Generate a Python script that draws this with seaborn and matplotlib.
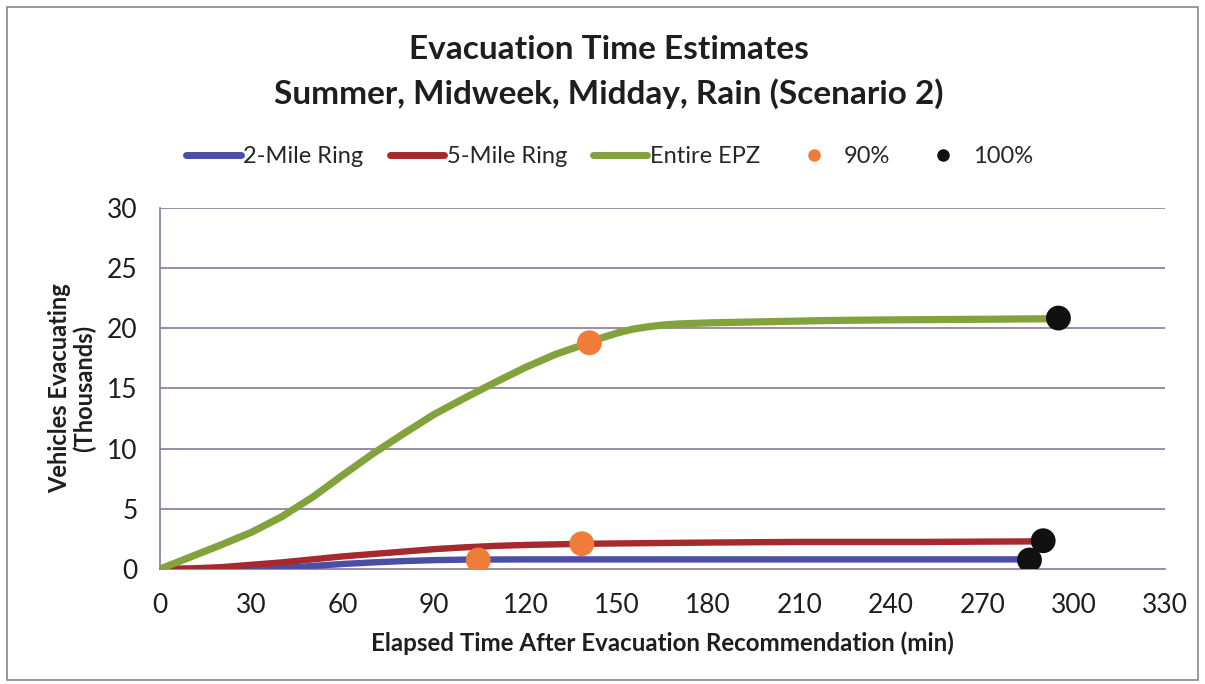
import matplotlib
matplotlib.use("Agg")
import matplotlib.pyplot as plt
import seaborn as sns
from matplotlib.lines import Line2D
from matplotlib.patches import Rectangle

# ---- data (minutes, thousands of vehicles) ----
t_green = [0, 10, 20, 30, 40, 50, 60, 70, 80, 90, 100, 110, 120, 130, 140, 145, 150, 155,
           160, 165, 170, 180, 200, 220, 240, 270, 295]
v_green = [0, 1.0, 2.0, 3.05, 4.35, 5.95, 7.8, 9.6, 11.25, 12.85, 14.2, 15.5, 16.75, 17.85,
           18.72, 19.2, 19.6, 19.92, 20.12, 20.27, 20.36, 20.45, 20.55, 20.65, 20.7, 20.75, 20.8]

t_red = [0, 10, 20, 30, 40, 50, 60, 70, 80, 90, 100, 110, 120, 130, 140, 160, 180, 210,
         250, 290]
v_red = [0, 0.05, 0.15, 0.35, 0.55, 0.8, 1.05, 1.25, 1.45, 1.65, 1.8, 1.92, 2.0, 2.05,
         2.1, 2.15, 2.2, 2.25, 2.25, 2.3]

t_blue = [0, 20, 30, 40, 50, 60, 70, 80, 90, 100, 120, 150, 200, 250, 285]
v_blue = [0, 0, 0.02, 0.08, 0.25, 0.42, 0.55, 0.66, 0.74, 0.78, 0.8, 0.8, 0.8, 0.8, 0.8]

t_90 = [104.5, 138.5, 141]
v_90 = [0.75, 2.1, 18.8]
t_100 = [285.5, 290, 295]
v_100 = [0.75, 2.35, 20.85]

x_ticks = list(range(0, 331, 30))
y_ticks = [0, 5, 10, 15, 20, 25, 30]

series_names = ["2-Mile Ring", "5-Mile Ring", "Entire EPZ", "90%", "100%"]
c_blue, c_red, c_green, c_orange, c_black = "#4B4EA6", "#A6292D", "#82A23C", "#F07C3A", "#111111"

sns.set_theme(style="white")
plt.rcParams['font.family'] = ['Lato', 'DejaVu Sans']

fig = plt.figure(figsize=(12.05, 6.84), dpi=100)
ax = fig.add_axes([0.1328, 0.1681, 0.834, 0.5279])

grid_c = "#877896"
txt_c = "#1E1E1E"
for y in y_ticks[1:]:
    ax.axhline(y, color=grid_c, lw=1.2, zorder=0)

sns.lineplot(x=t_blue, y=v_blue, color=c_blue, lw=4.6, ax=ax, zorder=3)
sns.lineplot(x=t_red, y=v_red, color=c_red, lw=4.6, ax=ax, zorder=3)
sns.lineplot(x=t_green, y=v_green, color=c_green, lw=5.2, ax=ax, zorder=3)
sns.scatterplot(x=t_90, y=v_90, color=c_orange, s=320, edgecolor='none', ax=ax, zorder=5)
sns.scatterplot(x=t_100, y=v_100, color=c_black, s=320, edgecolor='none', ax=ax, zorder=5)

ax.set_xlim(0, 330)
ax.set_ylim(0, 30)
ax.set_xticks(x_ticks)
ax.set_yticks(y_ticks)
ax.tick_params(axis='x', direction='in', length=6, width=1.2, color=grid_c, labelsize=19,
               pad=17, labelcolor=txt_c)
ax.tick_params(axis='y', length=0, labelsize=19, pad=16, labelcolor=txt_c)
for side in ['top', 'right']:
    ax.spines[side].set_visible(False)
for side in ['left', 'bottom']:
    ax.spines[side].set_color(grid_c)
    ax.spines[side].set_linewidth(1.2)

ax.set_xlabel("Elapsed Time After Evacuation Recommendation (min)", fontsize=17.4,
              fontweight='bold', color=txt_c, labelpad=10)
ax.set_ylabel("Vehicles Evacuating\n(Thousands)", fontsize=17, fontweight='bold',
              color=txt_c, labelpad=8, linespacing=1.05)

fig.text(0.505, 0.927, "Evacuation Time Estimates", ha='center', va='center',
         fontsize=24, fontweight='bold', color=txt_c)
fig.text(0.505, 0.8626, "Summer, Midweek, Midday, Rain (Scenario 2)", ha='center', va='center',
         fontsize=24, fontweight='bold', color=txt_c)

handles = [
    Line2D([], [], color=c_blue, lw=5, solid_capstyle='round'),
    Line2D([], [], color=c_red, lw=5, solid_capstyle='round'),
    Line2D([], [], color=c_green, lw=5, solid_capstyle='round'),
    Line2D([], [], color=c_orange, lw=0, marker='o', markersize=8),
    Line2D([], [], color=c_black, lw=0, marker='o', markersize=8),
]
fig.legend(handles, series_names, loc='center', bbox_to_anchor=(0.506, 0.7705), ncol=5,
           frameon=False, fontsize=17, handlelength=2.3, handletextpad=0.12,
           columnspacing=1.1, borderpad=0.2)

fig.add_artist(Rectangle((0.006, 0.006), 0.988, 0.984, transform=fig.transFigure,
                         fill=False, edgecolor='#888888', lw=1.2))

fig.savefig("out.png", dpi=100)
